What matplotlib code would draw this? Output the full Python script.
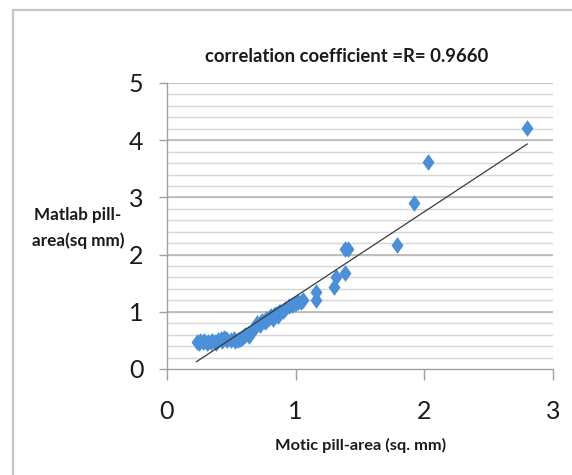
import matplotlib
matplotlib.use("Agg")
import matplotlib.pyplot as plt
import numpy as np
from matplotlib.patches import Rectangle

# Motic vs Matlab pill areas (sq mm)
motic = [0.23, 0.25, 0.26, 0.28, 0.29, 0.31, 0.32, 0.34, 0.35, 0.37,
         0.38, 0.40, 0.42, 0.43, 0.44, 0.46, 0.47, 0.50, 0.52, 0.53,
         0.55, 0.57, 0.58, 0.60, 0.61, 0.63, 0.64, 0.65, 0.67, 0.68,
         0.69, 0.70, 0.72, 0.73, 0.74, 0.76, 0.77, 0.78, 0.79, 0.80,
         0.81, 0.82, 0.83, 0.84, 0.85, 0.86, 0.87, 0.88, 0.90, 0.92,
         0.95, 0.97, 0.99, 1.00, 1.02, 1.04, 1.06, 1.16, 1.16, 1.30,
         1.31, 1.38, 1.38, 1.41, 1.79, 1.92, 2.03, 2.80]
matlab = [0.48, 0.46, 0.49, 0.47, 0.49, 0.46, 0.48, 0.47, 0.49, 0.47,
          0.45, 0.50, 0.53, 0.49, 0.55, 0.52, 0.50, 0.51, 0.53, 0.49,
          0.50, 0.52, 0.55, 0.57, 0.60, 0.62, 0.58, 0.64, 0.68, 0.72,
          0.76, 0.80, 0.77, 0.82, 0.84, 0.82, 0.88, 0.85, 0.90, 0.91,
          0.92, 0.88, 0.94, 0.95, 0.97, 0.93, 0.99, 1.00, 1.02, 1.05,
          1.10, 1.12, 1.13, 1.15, 1.18, 1.18, 1.21, 1.20, 1.35, 1.44,
          1.60, 1.68, 2.10, 2.10, 2.16, 2.91, 3.62, 4.21]

xticks = [0, 1, 2, 3]
yticks = [0, 1, 2, 3, 4, 5]

plt.rcParams['font.family'] = ['Lato', 'DejaVu Sans']

fig = plt.figure(figsize=(5.72, 4.75), dpi=100)
fig.patch.set_facecolor("white")

# chart border (only top/left visible in the crop)
fig.patches.append(Rectangle((13 / 572, -0.1), 1.2, (475 - 10) / 475 + 0.1,
                             transform=fig.transFigure, fill=False,
                             edgecolor="#c8c8c8", linewidth=1.6))

ax = fig.add_axes([167 / 572, (475 - 369) / 475, (553 - 167) / 572, (369 - 83) / 475])

# horizontal grid: minor every 0.2, major at whole numbers
for v in np.arange(0.2, 5.0, 0.2):
    ax.axhline(v, color="#d6d6d6", linewidth=1.0, zorder=0)
for v in yticks[1:]:
    ax.axhline(v, color="#b8b8b8", linewidth=1.2, zorder=0)

# data points
diamond = [(0, 1), (0.72, 0), (0, -1), (-0.72, 0)]
ax.plot(motic, matlab, linestyle="none", marker=diamond, markersize=12,
        color="#4a8fd8", markeredgewidth=0, zorder=3)

# linear trendline
slope, icpt = np.polyfit(motic, matlab, 1)
tx = np.array([min(motic), max(motic)])
ax.plot(tx, slope * tx + icpt, color="#3a3a3a", linewidth=0.9, zorder=4)

ax.set_xlim(0, 3)
ax.set_ylim(0, 5)
ax.set_xticks(xticks)
ax.set_yticks(yticks)

for s in ["top", "right"]:
    ax.spines[s].set_visible(False)
for s in ["left", "bottom"]:
    ax.spines[s].set_color("#a0a0a0")
    ax.spines[s].set_linewidth(1.0)

ax.tick_params(axis="x", direction="out", length=8, width=1.0, color="#a0a0a0",
               pad=14, labelsize=18, labelcolor="#1a1a1a")
ax.tick_params(axis="y", direction="out", length=6, width=1.0, color="#a0a0a0",
               pad=11, labelsize=18, labelcolor="#1a1a1a")

fig.text(347 / 572, (475 - 56) / 475, "correlation coefficient =R= 0.9660",
         ha="center", va="center", fontsize=13.3, fontweight="bold", color="#1a1a1a")
fig.text(361 / 572, (475 - 445) / 475, "Motic pill-area (sq. mm)",
         ha="center", va="center", fontsize=11.8, fontweight="bold", color="#1a1a1a")
fig.text(78 / 572, (475 - 228) / 475, "Matlab pill-\narea(sq mm)",
         ha="center", va="center", fontsize=12.3, fontweight="bold",
         color="#1a1a1a", linespacing=1.65)

fig.savefig("out.png", dpi=100)
